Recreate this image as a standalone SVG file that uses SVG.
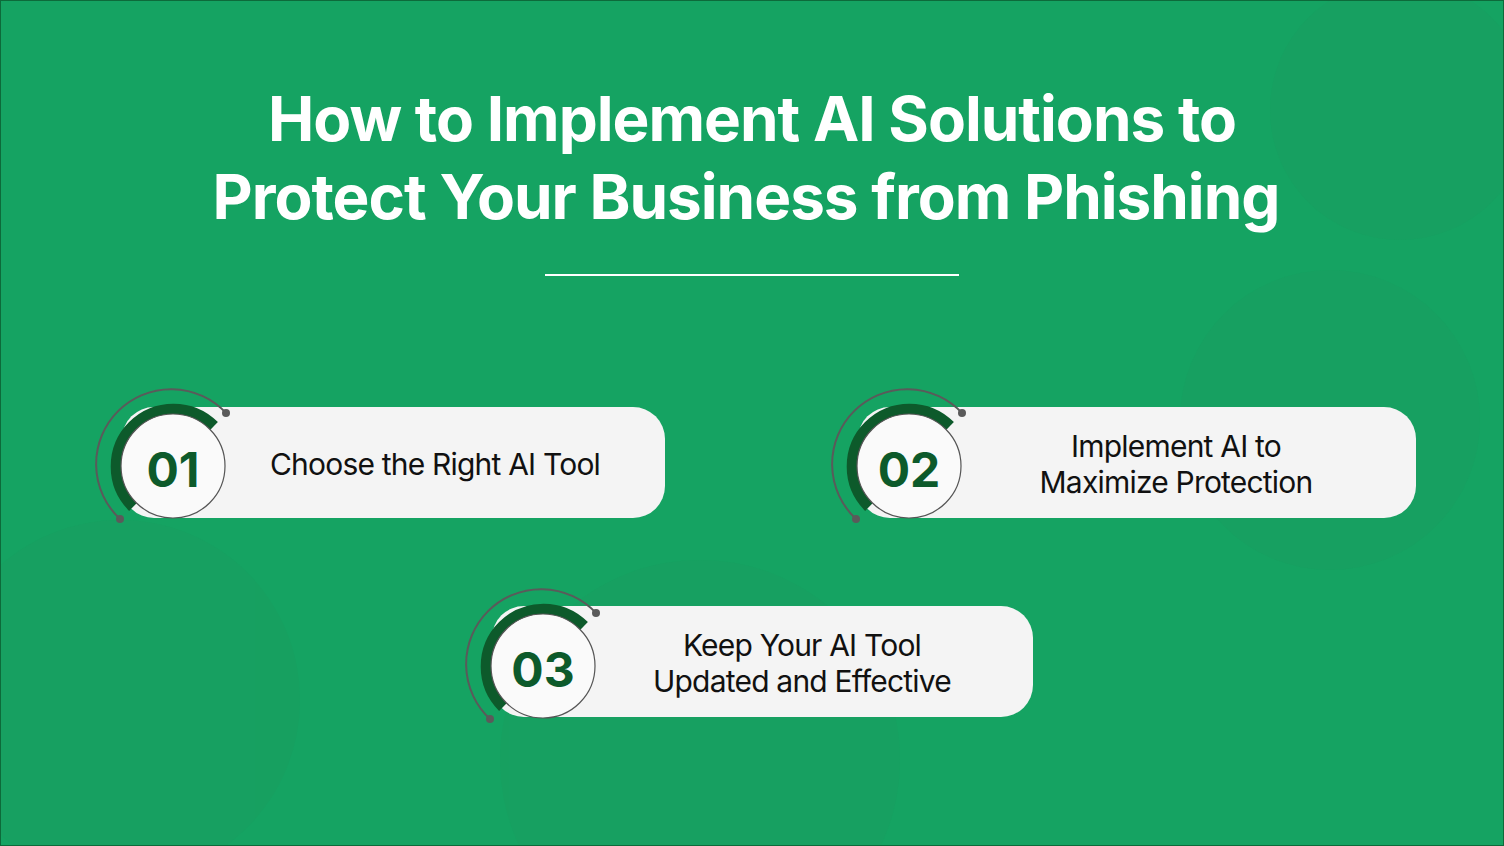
<svg xmlns="http://www.w3.org/2000/svg" width="1504" height="846" viewBox="0 0 1504 846">
<style>
.pill{fill:#f4f4f4}
.disc{fill:#fafafa;stroke:#555;stroke-width:1.2}
.thick{fill:none;stroke:#0d5a2b;stroke-width:11}
.thin{fill:none;stroke:#5a5a5a;stroke-width:2}
.dot{fill:#5a5a5a}
.num{font-family:Inter,"Liberation Sans",sans-serif;font-weight:700;font-size:48px;fill:#0d5a2b;text-anchor:middle}
.lbl{font-family:Inter,"Liberation Sans",sans-serif;font-size:30px;fill:#111;text-anchor:middle;letter-spacing:-0.8px}
.title{font-family:Inter,"Liberation Sans",sans-serif;font-weight:700;font-size:62px;fill:#fff;text-anchor:middle;letter-spacing:-1px}
</style>
<defs>
<g id="badge">
<path class="thin" d="M53,-53 A75,75 0 1 0 -53,53"/>
<circle class="dot" cx="53" cy="-53" r="4"/>
<circle class="dot" cx="-53" cy="53" r="4"/>
<path class="thick" d="M41,-40 A57,57 0 1 0 -40,41"/>
<circle class="disc" r="52"/>
</g>
</defs>
<rect width="1504" height="846" fill="#15a362"/>
<g fill="#1a9e60" opacity="0.5">
<circle cx="1400" cy="110" r="130"/>
<circle cx="1330" cy="420" r="150"/>
<circle cx="120" cy="700" r="180"/>
<circle cx="700" cy="760" r="200"/>
</g>
<rect x="0.5" y="0.5" width="1503" height="845" fill="none" stroke="#0d6a3a"/>
<text class="title" x="752" y="141">How to Implement AI Solutions to</text>
<text class="title" x="746" y="219">Protect Your Business from Phishing</text>
<line x1="545" y1="275" x2="959" y2="275" stroke="#fff" stroke-width="2"/>
<g id="connectors"/>
<g id="node1">
<rect class="pill" x="122" y="407" width="543" height="111" rx="32"/>
<use href="#badge" x="173" y="466"/>
<text class="num" x="173" y="487">01</text>
<text class="lbl" x="435" y="475">Choose the Right AI Tool</text>
</g>
<g id="node2">
<rect class="pill" x="858" y="407" width="558" height="111" rx="32"/>
<use href="#badge" x="909" y="466"/>
<text class="num" x="909" y="487">02</text>
<text class="lbl" x="1176" y="457">Implement AI to</text>
<text class="lbl" x="1176" y="493">Maximize Protection</text>
</g>
<g id="node3">
<rect class="pill" x="492" y="606" width="541" height="111" rx="32"/>
<use href="#badge" x="543" y="666"/>
<text class="num" x="543" y="687">03</text>
<text class="lbl" x="802" y="656">Keep Your AI Tool</text>
<text class="lbl" x="802" y="692">Updated and Effective</text>
</g>
</svg>
